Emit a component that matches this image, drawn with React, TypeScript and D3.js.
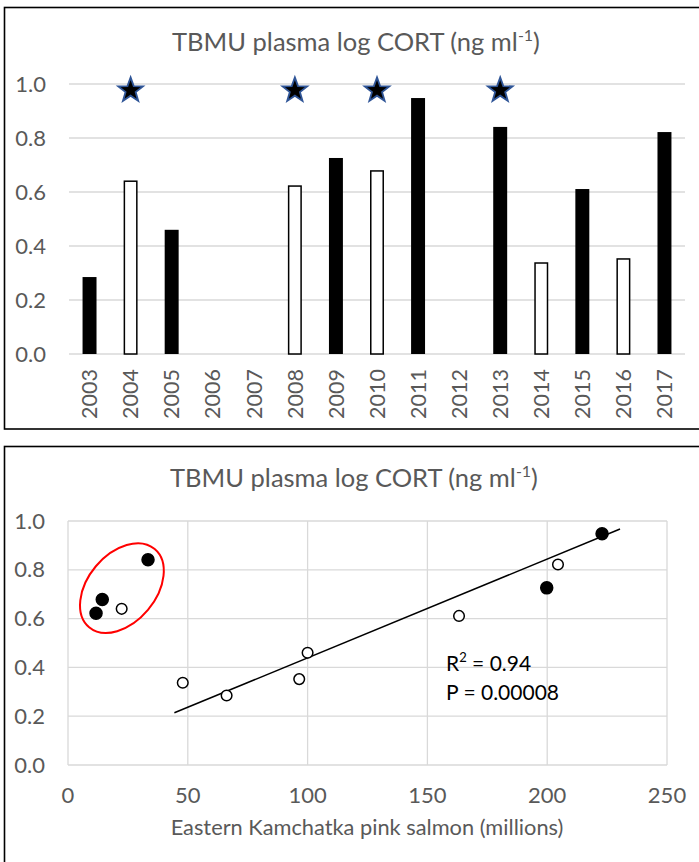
import React from "react";
import * as d3 from "d3";

// Plasma log CORT per year (null = no sample)
const years: number[] = [2003, 2004, 2005, 2006, 2007, 2008, 2009, 2010, 2011, 2012, 2013, 2014, 2015, 2016, 2017];
const cort: (number | null)[] = [0.285, 0.64, 0.46, null, null, 0.622, 0.726, 0.678, 0.948, null, 0.841, 0.337, 0.611, 0.352, 0.822];
const barSolid: boolean[] = [true, false, true, false, false, false, true, false, true, false, true, false, true, false, true];
const starYears: number[] = [2004, 2008, 2010, 2013];
const starLevel = 0.98;

// Eastern Kamchatka pink salmon abundance (millions) per sampled year
const salmonYears: number[] = [2003, 2004, 2005, 2008, 2009, 2010, 2011, 2013, 2014, 2015, 2016, 2017];
const salmon: number[] = [66.2, 22.4, 100, 11.7, 199.8, 14.3, 222.9, 33.4, 47.9, 163.2, 96.5, 204.5];
const salmonSolid: boolean[] = [false, false, false, true, true, true, true, true, false, false, false, false];

// Fitted trend line endpoints
const trendX: number[] = [44.4, 230.4];
const trendY: number[] = [0.214, 0.967];

// Outlier cluster ring (data centre)
const ringCenter: number[] = [22.5, 0.725];

const yTicks: number[] = [0, 0.2, 0.4, 0.6, 0.8, 1.0];
const xTicks: number[] = [0, 50, 100, 150, 200, 250];

const FONT = "Lato, 'Open Sans', sans-serif";
const GREY = "#595959";
const GRID = "#d9d9d9";

function starPath(cx: number, cy: number, R: number, r: number): string {
  const pts: [number, number][] = [];
  for (let i = 0; i < 10; i++) {
    const a = -Math.PI / 2 + (i * Math.PI) / 5;
    const rad = i % 2 === 0 ? R : r;
    pts.push([cx + rad * Math.cos(a), cy + rad * Math.sin(a)]);
  }
  return d3.line()(pts)! + "Z";
}

function Title({ x, y }: { x: number; y: number }) {
  return (
    <text x={x} y={y} textAnchor="middle" fontFamily={FONT} fontSize={25.5} fill={GREY}>
      TBMU plasma log CORT (ng ml
      <tspan fontSize={16} dy={-10}>-1</tspan>
      <tspan dy={10}>)</tspan>
    </text>
  );
}

function BarPanel() {
  const x = d3.scaleBand<number>().domain(years).range([69, 685]).paddingInner(0.66).paddingOuter(0.33);
  const y = d3.scaleLinear().domain([0, 1]).range([354, 84]);
  return (
    <g>
      <rect x={4.5} y={7.5} width={700} height={421.5} fill="white" stroke="#000" strokeWidth={1.6} />
      <Title x={356} y={51} />
      {yTicks.map((t) => (
        <g key={t}>
          <line x1={69} x2={685} y1={y(t)} y2={y(t)} stroke={GRID} strokeWidth={1.3} />
          <text x={46} y={y(t) + 7.5} textAnchor="end" fontFamily={FONT} fontSize={22} fill={GREY}>
            {t.toFixed(1)}
          </text>
        </g>
      ))}
      {years.map((yr, i) => {
        const v = cort[i];
        if (v == null) return null;
        const solid = barSolid[i];
        const x0 = x(yr)!;
        return (
          <rect
            key={yr}
            x={solid ? x0 : x0 + 0.75}
            y={y(v)}
            width={solid ? x.bandwidth() : x.bandwidth() - 1.5}
            height={y(0) - y(v)}
            fill={solid ? "#000" : "#fff"}
            stroke={solid ? "none" : "#000"}
            strokeWidth={1.5}
          />
        );
      })}
      {years.map((yr) => {
        const cx = x(yr)! + x.bandwidth() / 2;
        return (
          <text
            key={yr}
            transform={`translate(${cx},369) rotate(-90)`}
            textAnchor="end"
            dy="0.36em"
            fontFamily={FONT}
            fontSize={21.5}
            fill={GREY}
          >
            {yr}
          </text>
        );
      })}
      {starYears.map((yr) => {
        const cx = x(yr)! + x.bandwidth() / 2;
        return (
          <path
            key={yr}
            d={starPath(cx, y(starLevel) + 1, 13, 5.3)}
            fill="#000"
            stroke="#2f5597"
            strokeWidth={1.8}
            strokeLinejoin="miter"
          />
        );
      })}
    </g>
  );
}

function ScatterPanel() {
  const x = d3.scaleLinear().domain([0, 250]).range([68, 667]);
  const y = d3.scaleLinear().domain([0, 1]).range([765, 521]);
  const line = d3.line<number>().x((d) => x(d)).y((_, i) => y(trendY[i]));
  return (
    <g>
      <rect x={4.5} y={446.5} width={700} height={430} fill="white" stroke="#000" strokeWidth={1.6} />
      <Title x={354} y={487} />
      {yTicks.map((t) => (
        <g key={t}>
          <line x1={68} x2={667} y1={y(t)} y2={y(t)} stroke={GRID} strokeWidth={1.3} />
          <text x={45} y={y(t) + 7.5} textAnchor="end" fontFamily={FONT} fontSize={22} fill={GREY}>
            {t.toFixed(1)}
          </text>
        </g>
      ))}
      {xTicks.map((t) => (
        <g key={t}>
          <line x1={x(t)} x2={x(t)} y1={y(0)} y2={y(1)} stroke={GRID} strokeWidth={1.3} />
          <text x={x(t)} y={803} textAnchor="middle" fontFamily={FONT} fontSize={22} fill={GREY}>
            {t}
          </text>
        </g>
      ))}
      <text x={367} y={835} textAnchor="middle" fontFamily={FONT} fontSize={21.8} fill={GREY}>
        Eastern Kamchatka pink salmon (millions)
      </text>
      <path d={line(trendX)!} fill="none" stroke="#000" strokeWidth={1.5} />
      <ellipse
        cx={0}
        cy={0}
        rx={51}
        ry={34}
        transform={`translate(${x(ringCenter[0])},${y(ringCenter[1])}) rotate(-50)`}
        fill="none"
        stroke="#ff0000"
        strokeWidth={2}
      />
      {salmonYears.map((yr, i) => {
        const v = cort[years.indexOf(yr)]!;
        const solid = salmonSolid[i];
        return (
          <circle
            key={yr}
            cx={x(salmon[i])}
            cy={y(v)}
            r={solid ? 6 : 5.3}
            fill={solid ? "#000" : "#fff"}
            stroke="#000"
            strokeWidth={1.5}
          />
        );
      })}
      <text x={446} y={671} fontFamily={FONT} fontSize={21} fill="#000">
        R<tspan fontSize={13} dy={-9}>2</tspan>
        <tspan dy={9}> = 0.94</tspan>
      </text>
      <text x={446} y={700} fontFamily={FONT} fontSize={21} fill="#000">
        P = 0.00008
      </text>
    </g>
  );
}

export default function App() {
  return (
    <svg
      width={699}
      height={862}
      style={{ position: "absolute", left: 0, top: 0, background: "#fff" }}
    >
      <rect width={699} height={862} fill="#fff" />
      <BarPanel />
      <ScatterPanel />
    </svg>
  );
}
